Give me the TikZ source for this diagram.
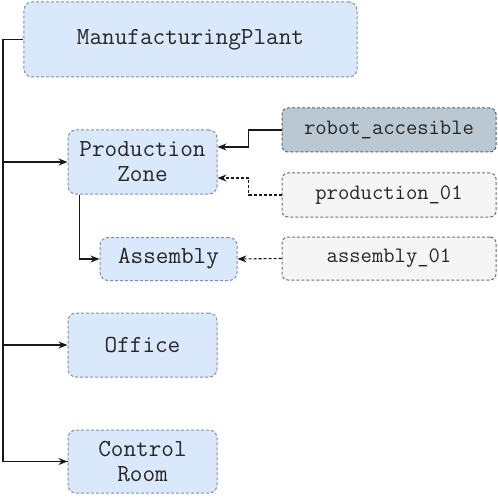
\documentclass[tikz,border=0pt]{standalone}
\usepackage{tikz}
\usetikzlibrary{arrows.meta}
\definecolor{zoneblue}{HTML}{DAE8FC}
\definecolor{zoneline}{HTML}{7D8FA8}
\definecolor{tagblue}{HTML}{BAC8D3}
\definecolor{tagline}{HTML}{4F6478}
\definecolor{idgray}{HTML}{F5F5F5}
\definecolor{idline}{HTML}{707070}

\begin{document}
\begin{tikzpicture}[x=1bp,y=-1bp,
  area/.style={draw=zoneline, fill=zoneblue, line width=1bp, rounded corners=8bp, dash pattern=on 3bp off 2bp, inner sep=0pt, align=center, text=black!85, font=\ttfamily\fontsize{24.5bp}{25bp}\selectfont},
  tag/.style={draw=tagline, fill=tagblue, line width=1bp, rounded corners=6bp, dash pattern=on 3bp off 2bp, inner sep=0pt, text=black!85, minimum width=214bp, minimum height=44bp, font=\ttfamily\fontsize{22bp}{25bp}\selectfont},
  ident/.style={tag, draw=idline, fill=idgray},
  link/.style={line width=1.1bp, black!90, -{Stealth[length=9bp,width=7bp]}}]
\useasboundingbox (0,0) rectangle (498,497);
%Locations
\node[area, minimum width=333bp, minimum height=75bp] (plant) at (190.5,39.5) {ManufacturingPlant};
\node[area, minimum width=149bp, minimum height=64bp] (zone) at (142.5,162) {Production\\Zone};
\node[area, minimum width=137bp, minimum height=43bp] (assembly) at (168.5,259) {Assembly};
\node[area, minimum width=149bp, minimum height=64bp] (office) at (142.5,345) {Office};
\node[area, minimum width=149bp, minimum height=63bp] (control) at (142.5,461.5) {Control\\Room};
%Tags and identifiers
\node[tag] (robot) at (389,130) {robot\_accesible};
\node[ident] (prod01) at (389,195) {production\_01};
\node[ident, minimum height=43bp] (asm01) at (389,258.5) {assembly\_01};
%Containment
\coordinate (bus) at (3,39.5);
\draw[link, -] (plant.west) -- (bus) |- (control.west);
\draw[link] (bus) |- (zone.west);
\draw[link] (bus) |- (office.west);
\draw[link] (bus) |- (control.west);
\draw[link] ([xshift=12bp]zone.south west) |- (assembly.west);
%Tag and identifier links
\draw[link] (robot.west) -- ++(-33,0) |- ([yshift=15bp]zone.east);
\draw[link, dash pattern=on 3bp off 2bp] (prod01.west) -- ++(-33,0) |- ([yshift=-16bp]zone.east);
\draw[link, dash pattern=on 3bp off 2bp] (asm01.west) -- (assembly.east);
\end{tikzpicture}
\end{document}
